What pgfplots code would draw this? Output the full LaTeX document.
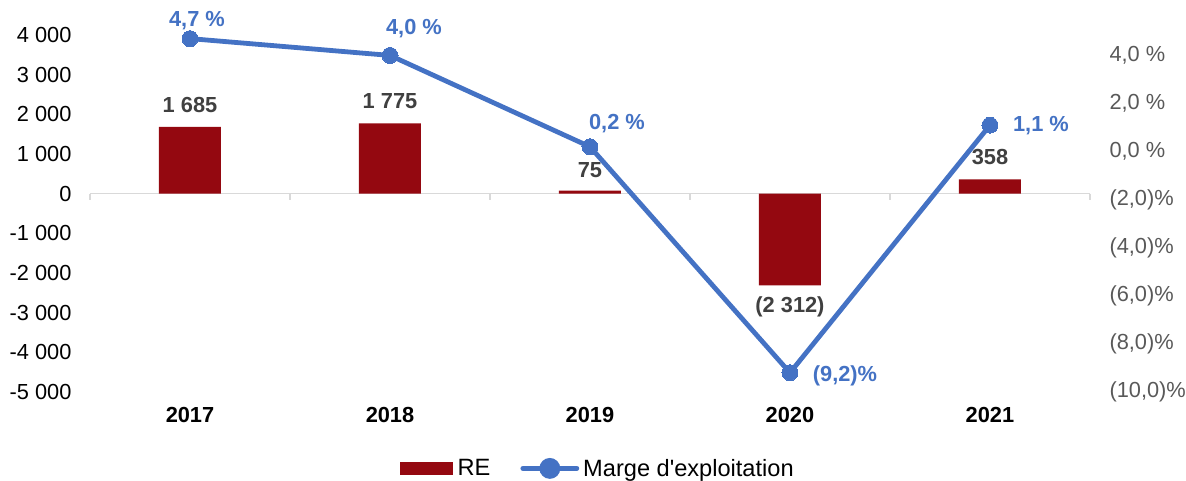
\documentclass[border=0pt]{standalone}
\usepackage{pgfplots}
\pgfplotsset{compat=1.18}
\usepackage{pgfplotstable}
\usepackage{fontspec}
\setmainfont{Liberation Sans}
\definecolor{barred}{HTML}{940810}
\definecolor{lineblue}{HTML}{4472C4}
\definecolor{lbl}{HTML}{404040}
\definecolor{rlbl}{HTML}{595959}
\definecolor{zline}{HTML}{D9D9D9}
\newcommand{\chartfont}{\fontsize{21.8}{26}\selectfont}

\pgfplotstableread[col sep=semicolon]{
x;y;label;dy
0;1685;1 685;22
1;1775;1 775;22
2;75;75;21
3;-2312;(2 312);-21
4;358;358;22
}\bardata

\pgfplotstableread[col sep=semicolon]{
x;y;label;dx;dy
0;4.7;4,7 \%;7;18
1;4.0;4,0 \%;24;27
2;0.2;0,2 \%;27;23
3;-9.2;(9,2)\%;55;-3
4;1.1;1,1 \%;51;0
}\linedata

\begin{document}
\begin{tikzpicture}
\useasboundingbox (-90pt,-88pt) rectangle (1096pt,392pt);
\begin{axis}[
  at={(0pt,0pt)}, anchor=south west,
  width=1000pt, height=357pt, scale only axis,
  xmin=-0.5, xmax=4.5, ymin=-5000, ymax=4000,
  axis line style={draw=none},
  ytick={-5000,-4000,-3000,-2000,-1000,0,1000,2000,3000,4000},
  yticklabels={{-5 000},{-4 000},{-3 000},{-2 000},{-1 000},{0},{1 000},{2 000},{3 000},{4 000}},
  yticklabel style={xshift=-15pt, text=black},
  xtick={0,1,2,3,4},
  xticklabels={2017,2018,2019,2020,2021},
  xticklabel style={font=\chartfont\bfseries, yshift=-12pt, text=black},
  major tick length=0pt,
  tick style={draw=none},
  font=\chartfont,
  clip=false,
]
\draw[zline, line width=1.6pt] (axis cs:-0.5,0) -- (axis cs:4.5,0);
\pgfplotsinvokeforeach{-0.5,0.5,1.5,2.5,3.5,4.5}{
  \draw[zline, line width=1.6pt] (axis cs:#1,0) -- ++(0pt,-6pt);
}
\addplot[ybar, bar width=62pt, fill=barred, draw=none] table[x=x,y=y] {\bardata};
\addplot[draw=none, point meta=explicit symbolic,
  visualization depends on=\thisrow{dy}\as\mydy,
  nodes near coords,
  every node near coord/.append style={anchor=center, yshift=\mydy, text=lbl, font=\chartfont\bfseries}]
  table[x=x,y=y,meta=label] {\bardata};
\end{axis}

\begin{axis}[
  at={(0pt,0pt)}, anchor=south west,
  width=1000pt, height=357pt, scale only axis,
  xmin=-0.5, xmax=4.5, ymin=-10, ymax=4.85,
  axis y line*=right, axis x line=none,
  axis line style={draw=none},
  ytick={-10,-8,-6,-4,-2,0,2,4},
  yticklabels={{(10,0)\%},{(8,0)\%},{(6,0)\%},{(4,0)\%},{(2,0)\%},{0,0 \%},{2,0 \%},{4,0 \%}},
  yticklabel style={anchor=west, text=rlbl, xshift=16pt},
  major tick length=0pt,
  tick style={draw=none},
  font=\chartfont,
  clip=false,
  legend style={at={(0.508,-0.214)}, anchor=center, draw=none, fill=none,
    legend columns=2, font=\fontsize{23.6}{28}\selectfont,
    /tikz/every even column/.append style={column sep=28pt}},
]
\addlegendimage{legend image code/.code={\fill[barred] (0pt,-6.2pt) rectangle (52pt,6.2pt); \path (55pt,0pt);}}
\addlegendentry{RE}
\addplot[lineblue, line width=4.8pt, mark=*, mark size=8pt, mark options={fill=lineblue, draw=lineblue, line width=0pt},
  legend image code/.code={\draw[lineblue, line width=4.8pt, line cap=round] (1pt,0pt) -- (55pt,0pt); \fill[lineblue] (28pt,0pt) circle (8pt); \path (57pt,0pt);}]
  table[x=x,y=y] {\linedata};
\addlegendentry{Marge d\textquotesingle exploitation}
\addplot[draw=none, forget plot, point meta=explicit symbolic,
  visualization depends on=\thisrow{dx}\as\mydx,
  visualization depends on=\thisrow{dy}\as\mydy,
  nodes near coords,
  every node near coord/.append style={anchor=center, xshift=\mydx, yshift=\mydy, text=lineblue, font=\chartfont\bfseries}]
  table[x=x,y=y,meta=label] {\linedata};
\end{axis}
\end{tikzpicture}
\end{document}
